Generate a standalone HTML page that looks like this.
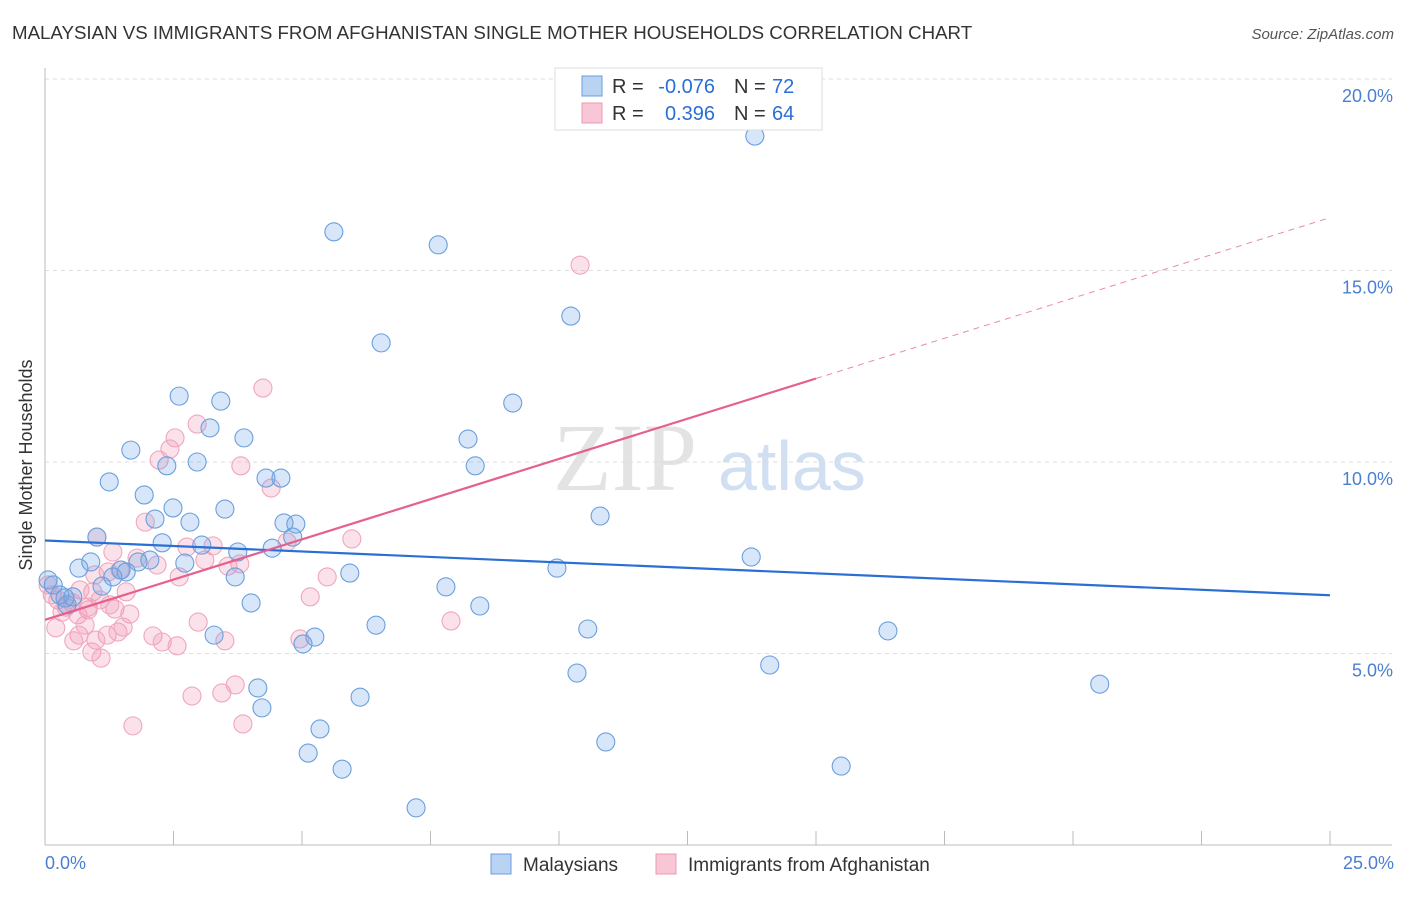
<!DOCTYPE html>
<html><head><meta charset="utf-8"><style>
body{margin:0;background:#fff;font-family:"Liberation Sans",sans-serif}
</style></head><body>
<svg width="1406" height="892" viewBox="0 0 1406 892" xmlns="http://www.w3.org/2000/svg" font-family="Liberation Sans, sans-serif">
<text x="12" y="39" font-size="18.7" fill="#333">MALAYSIAN VS IMMIGRANTS FROM AFGHANISTAN SINGLE MOTHER HOUSEHOLDS CORRELATION CHART</text>
<text x="1394" y="39" font-size="15" fill="#555" font-style="italic" text-anchor="end">Source: ZipAtlas.com</text>
<g>
<text x="553" y="490" font-size="96" fill="#ddd" font-family="Liberation Serif, serif" opacity="0.8">ZIP</text>
<text x="718" y="490" font-size="70" fill="#c5d8f0" opacity="0.8">atlas</text>
</g>
<g id="grid"></g>
<g id="axes"></g>
<g id="pts"></g>
<g id="lines"></g>
<text x="22" y="455" font-size="18" fill="#333" transform="rotate(-90 32 455)" text-anchor="middle">Single Mother Households</text>
<text x="45" y="869" font-size="18" fill="#4a7fd0">0.0%</text>
<text x="1394" y="869" font-size="18" fill="#4a7fd0" text-anchor="end">25.0%</text>
<g font-size="20">
<rect x="555" y="68" width="267" height="62" fill="#fff" stroke="#ddd"/>
<rect x="582" y="76" width="20" height="20" fill="#b9d3f3" stroke="#6a9be0"/>
<rect x="582" y="103" width="20" height="20" fill="#f9c6d6" stroke="#ec9ab4"/>
<text x="612" y="93" fill="#333">R =</text>
<text x="715" y="93" fill="#2a6fd4" text-anchor="end">-0.076</text>
<text x="734" y="93" fill="#333">N =</text>
<text x="772" y="93" fill="#2a6fd4">72</text>
<text x="612" y="120" fill="#333">R =</text>
<text x="715" y="120" fill="#2a6fd4" text-anchor="end">0.396</text>
<text x="734" y="120" fill="#333">N =</text>
<text x="772" y="120" fill="#2a6fd4">64</text>
</g>
<g>
<rect x="491" y="854" width="20" height="20" fill="#b9d3f3" stroke="#6a9be0"/>
<text x="523" y="871" font-size="19" fill="#333">Malaysians</text>
<rect x="656" y="854" width="20" height="20" fill="#f9c6d6" stroke="#ec9ab4"/>
<text x="688" y="871" font-size="19" fill="#333">Immigrants from Afghanistan</text>
</g>
</svg>
<script>
const yTicks=[5,10,15,20];
const yTickLabels=["5.0%","10.0%","15.0%","20.0%"];
const blueX=[13.81,5.62,7.65,10.23,6.54,9.10,2.61,3.42,3.21,3.87,8.23,1.67,2.37,2.96,8.37,1.25,4.30,4.59,1.93,2.49,3.50,2.14,2.82,10.80,4.65,4.88,1.01,4.82,3.05,2.28,3.75,4.42,13.74,2.04,0.89,0.66,1.48,1.81,9.96,5.93,2.72,1.58,1.32,3.70,1.11,7.80,0.16,0.06,0.29,0.54,0.43,4.01,8.46,6.44,10.56,16.40,3.29,5.25,5.02,14.10,10.35,4.14,20.52,6.13,4.22,5.35,10.91,5.12,15.49,5.78,7.22,0.39];
const blueY=[18.51,16.01,15.67,13.81,13.11,11.54,11.72,11.59,10.89,10.63,10.60,10.31,9.90,10.00,9.90,9.48,9.58,9.58,9.14,8.80,8.77,8.51,8.43,8.59,8.41,8.38,8.04,8.04,7.83,7.89,7.65,7.75,7.52,7.44,7.39,7.23,7.18,7.39,7.23,7.10,7.36,7.13,7.00,7.00,6.76,6.74,6.79,6.92,6.53,6.48,6.27,6.32,6.24,5.74,5.64,5.59,5.48,5.43,5.25,4.70,4.49,4.10,4.20,3.86,3.58,3.03,2.69,2.40,2.06,1.98,0.97,6.45];
const pinkX=[4.24,2.96,2.53,2.43,2.22,3.81,4.40,1.95,1.01,1.32,1.79,2.76,3.27,4.71,5.97,2.18,3.11,3.56,3.79,1.23,1.46,5.49,2.61,0.93,1.58,5.16,0.84,1.36,1.65,0.21,0.66,0.56,0.91,1.09,1.21,1.42,1.52,2.10,2.28,2.57,2.98,3.50,4.96,2.86,3.44,3.70,1.71,3.85,10.41,7.90,0.06,0.14,0.25,0.41,0.53,0.68,0.84,0.64,0.33,0.97,1.07,1.26,0.78,0.99];
const pinkY=[11.93,10.99,10.63,10.34,10.05,9.90,9.32,8.43,8.04,7.65,7.49,7.78,7.81,7.91,7.99,7.31,7.44,7.28,7.34,7.13,7.18,7.00,7.00,6.61,6.61,6.48,6.21,6.16,6.03,5.67,5.48,5.33,5.04,4.88,5.48,5.56,5.69,5.46,5.30,5.20,5.82,5.33,5.38,3.89,3.97,4.18,3.11,3.16,15.14,5.85,6.79,6.53,6.40,6.21,6.32,6.66,6.14,6.01,6.08,7.05,6.40,6.27,5.74,5.35];
const blueTrend=[7.95,6.52];
const pinkTrend=[5.88,16.38];
const pinkSolidEnd=15;
const NS="http://www.w3.org/2000/svg";
const X0=45,X1=1330,Y0=845,PY=38.3;
const xs=v=>X0+v/25*(X1-X0), ys=v=>Y0-v*PY;
function mk(t,a,p){const e=document.createElementNS(NS,t);for(const k in a)e.setAttribute(k,a[k]);p.appendChild(e);return e;}
const grid=document.getElementById('grid'),axes=document.getElementById('axes');
yTicks.forEach((t,i)=>{
 const l=mk('line',{x1:X0,x2:1392,y1:ys(t),y2:ys(t),stroke:'#ddd','stroke-dasharray':'4,4'},grid);
 
 
 const tx=mk('text',{x:1393,y:ys(t)+23,'font-size':18,fill:'#4a7fd0','text-anchor':'end'},axes);
 tx.textContent=yTickLabels[i];
 
 
});
mk('line',{x1:X0,x2:X0,y1:68,y2:Y0,stroke:'#bbb'},axes);
mk('line',{x1:X0,x2:1392,y1:Y0,y2:Y0,stroke:'#bbb'},axes);
for(let i=0;i<=10;i++){const t=mk('line',{x1:xs(i*2.5),x2:xs(i*2.5),y1:831,y2:Y0,stroke:'#bbb'},axes);
 
 }
const pts=document.getElementById('pts');
pinkX.forEach((v,i)=>{const c=mk('circle',{cx:xs(v),cy:ys(pinkY[i]),r:9,fill:'rgba(242,150,180,0.28)',stroke:'#f0a6be','stroke-width':1.1},pts);
 
 });
blueX.forEach((v,i)=>{const c=mk('circle',{cx:xs(v),cy:ys(blueY[i]),r:9,fill:'rgba(110,165,230,0.28)',stroke:'#6b9fdd','stroke-width':1.1},pts);
 
 });
const lines=document.getElementById('lines');
const bl=mk('line',{x1:xs(0),y1:ys(blueTrend[0]),x2:xs(25),y2:ys(blueTrend[1]),stroke:'#2a6fd4','stroke-width':2.2},lines);


const pe=pinkTrend[0]+(pinkTrend[1]-pinkTrend[0])*pinkSolidEnd/25;
const pl=mk('line',{x1:xs(0),y1:ys(pinkTrend[0]),x2:xs(pinkSolidEnd),y2:ys(pe),stroke:'#e5608e','stroke-width':2.2},lines);


const pd=mk('line',{x1:xs(pinkSolidEnd),y1:ys(pe),x2:xs(25),y2:ys(pinkTrend[1]),stroke:'#e88aa8','stroke-width':1,'stroke-dasharray':'6,5'},lines);


</script>
</body></html>
